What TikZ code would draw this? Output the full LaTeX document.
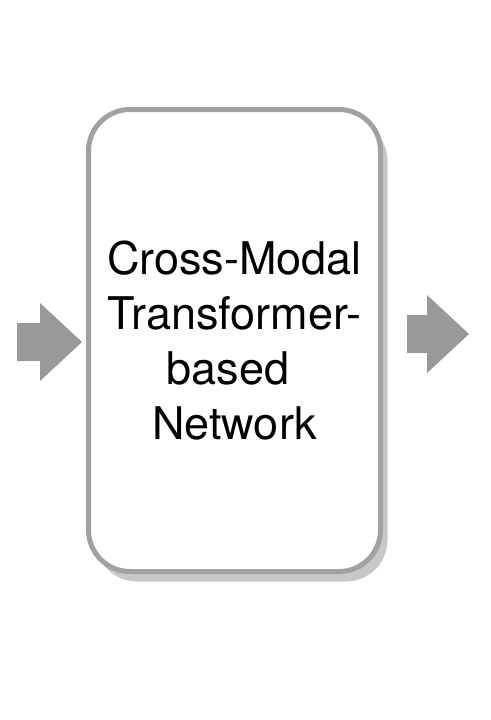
\documentclass[tikz,border=0pt]{standalone}
\usepackage{fontspec}
\setmainfont{TeX Gyre Heros}
\usetikzlibrary{shadows}

\begin{document}
\begin{tikzpicture}[x=1pt, y=-1pt]
    \tikzstyle{every node}=[inner sep=0, align=center]
    \tikzstyle{netbox}=[draw=black!37, line width=5pt, fill=white, rounded corners=41.5pt,
        minimum width=292pt, minimum height=462pt,
        drop shadow={shadow xshift=7pt, shadow yshift=-10pt, fill=black!22, opacity=1}]
    \tikzstyle{blockarrow}=[fill=black!40, draw=none]
    \useasboundingbox (0,0) rectangle (490,720);
    % The network box, with its shadow
    \node[netbox, font=\fontsize{45}{55}\selectfont] (NET) at (234.5,340.5)
        {Cross-Modal\\Transformer-\\based\ \mbox{}\\Network};
    % Arrow in and arrow out
    \coordinate (IN) at (17,342);
    \coordinate (OUT) at (407,334);
    \fill[blockarrow] (IN) ++(0,-19) -- ++(23,0) -- ++(0,-20) -- ++(42,39)
        -- ++(-42,39) -- ++(0,-20) -- ++(-23,0) -- cycle;
    \fill[blockarrow] (OUT) ++(0,-19) -- ++(20,0) -- ++(0,-20) -- ++(42,39)
        -- ++(-42,39) -- ++(0,-20) -- ++(-20,0) -- cycle;
\end{tikzpicture}
\end{document}
